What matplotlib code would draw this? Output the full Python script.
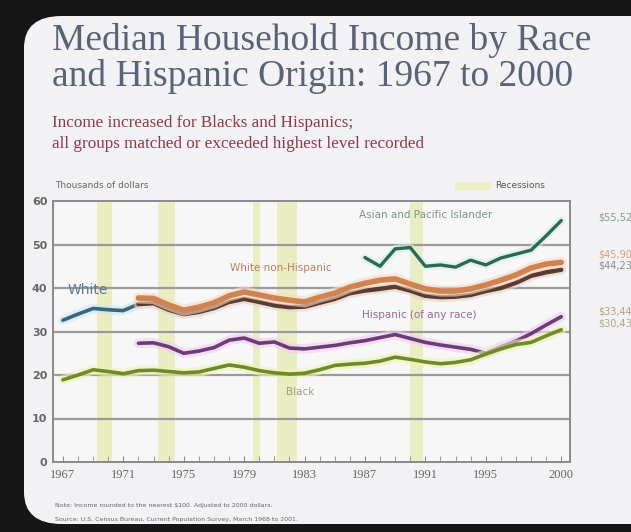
import matplotlib.pyplot as plt
import matplotlib.patheffects as pe
from matplotlib.patches import FancyBboxPatch, Rectangle

years = list(range(1967, 2001))

white = [32.6, 34.0, 35.3, 35.0, 34.8, 36.3, 36.5, 35.0, 34.0, 34.5,
         35.4, 36.8, 37.5, 36.8, 36.0, 35.6, 35.7, 36.6, 37.5, 38.8,
         39.4, 39.8, 40.3, 39.4, 38.2, 37.9, 38.0, 38.4, 39.3, 40.0,
         41.2, 42.8, 43.6, 44.2]

wnh_years = list(range(1972, 2001))
white_non_hisp = [37.7, 37.6, 36.1, 34.9, 35.6, 36.6, 38.2, 39.1, 38.4, 37.7,
                  37.2, 36.8, 37.9, 38.8, 40.2, 41.1, 41.8, 42.1, 40.9, 39.8,
                  39.3, 39.3, 39.8, 40.7, 41.8, 43.0, 44.6, 45.5, 45.9]

hisp_years = list(range(1972, 2001))
hispanic = [27.3, 27.4, 26.5, 25.0, 25.5, 26.3, 28.0, 28.5, 27.3, 27.6,
            26.2, 26.0, 26.4, 26.8, 27.4, 27.9, 28.6, 29.3, 28.4, 27.5,
            26.9, 26.4, 25.9, 25.0, 26.5, 27.8, 29.5, 31.5, 33.4]

black = [18.9, 20.0, 21.2, 20.8, 20.3, 21.0, 21.1, 20.8, 20.5, 20.7,
         21.5, 22.3, 21.8, 21.0, 20.5, 20.2, 20.4, 21.2, 22.2, 22.5,
         22.7, 23.2, 24.1, 23.6, 23.0, 22.6, 22.9, 23.5, 24.8, 26.0,
         27.0, 27.5, 29.0, 30.4]

asian_years = list(range(1987, 2001))
asian = [47.0, 45.0, 49.0, 49.3, 45.0, 45.3, 44.8, 46.4, 45.3, 46.9,
         47.8, 48.7, 52.0, 55.5]

recessions = [(1969.25, 1970.25), (1973.3, 1974.4), (1979.6, 1980.05),
              (1981.2, 1982.5), (1990.0, 1990.85)]

tick_years = [1967, 1971, 1975, 1979, 1983, 1987, 1991, 1995, 2000]
end_labels = ["$55,521", "$45,904", "$44,232", "$33,447", "$30,439"]

W, H = 631, 532
fig = plt.figure(figsize=(W / 100, H / 100), dpi=100)
fig.patch.set_facecolor("#161616")

# rounded light card behind everything
card = FancyBboxPatch((24 / W, 8 / H), 700 / W, 508 / H,
                      boxstyle="round,pad=0,rounding_size=0.06",
                      transform=fig.transFigure, facecolor="#f2f2f4",
                      edgecolor="none", zorder=-5)
fig.patches.append(card)

serif = ["Liberation Serif", "DejaVu Serif"]
fig.text(52 / W, 1 - 50 / H, "Median Household Income by Race",
         family=serif, fontsize=27, color="#5a6276", va="baseline")
fig.text(52 / W, 1 - 86 / H, "and Hispanic Origin: 1967 to 2000",
         family=serif, fontsize=27, color="#5a6276", va="baseline")
fig.text(52 / W, 1 - 127 / H, "Income increased for Blacks and Hispanics;",
         family=serif, fontsize=12.3, color="#8c3a48", va="baseline")
fig.text(52 / W, 1 - 148 / H,
         "all groups matched or exceeded highest level recorded",
         family=serif, fontsize=12.3, color="#8c3a48", va="baseline")

ax = fig.add_axes([53 / W, 1 - 462 / H, 517 / W, 261 / H])
ax.set_facecolor("#f7f7f8")
ax.set_xlim(1966.34, 2000.58)
ax.set_ylim(0, 60)

for a, b in recessions:
    ax.axvspan(a, b, color="#e9ecbc", alpha=0.9, lw=0, zorder=1)

for v in range(10, 60, 10):
    ax.axhline(v, color="#9a9a9c", lw=1.6, zorder=2)

for s in ax.spines.values():
    s.set_color("#8a8a8c")
    s.set_linewidth(1.4)


def glow(color, w):
    return [pe.Stroke(linewidth=w, foreground=color, alpha=0.6), pe.Normal()]


# White: blue before 1972, dark under the orange afterwards
ax.plot(years[:6], white[:6], color="#36677c", lw=2.6, zorder=4,
        path_effects=glow("#cfe6f2", 7), solid_capstyle="round")
ax.plot(years[5:], white[5:], color="#5b3b30", lw=3.2, zorder=4,
        path_effects=glow("#e8d0c8", 7), solid_capstyle="round")
ax.plot(wnh_years, white_non_hisp, color="#cf8350", lw=4.0, zorder=5,
        path_effects=glow("#f5dcc8", 8), solid_capstyle="round")
ax.plot(asian_years, asian, color="#2b6a52", lw=2.4, zorder=5,
        path_effects=glow("#d6eee2", 6), solid_capstyle="round")
ax.plot(hisp_years, hispanic, color="#6a3c78", lw=2.6, zorder=5,
        path_effects=glow("#f2ccf0", 7), solid_capstyle="round")
ax.plot(years, black, color="#6e8a2c", lw=2.6, zorder=5,
        path_effects=glow("#eef4b0", 7), solid_capstyle="round")

ax.text(1967.3, 38.6, "White", color="#5c7c92", fontsize=10)
ax.text(1981.4, 44.6, "White non-Hispanic", color="#b97e62", fontsize=7.5,
        ha="center", va="center")
ax.text(1991.0, 56.8, "Asian and Pacific Islander", color="#7c9282",
        fontsize=7.5, ha="center", va="center")
ax.text(1990.6, 33.8, "Hispanic (of any race)", color="#8e6aa0",
        fontsize=7.5, ha="center", va="center")
ax.text(1982.7, 16.0, "Black", color="#a0a070", fontsize=7.5,
        ha="center", va="center")

ax.set_xticks(tick_years)
ax.set_xticklabels([str(y) for y in tick_years], family=serif,
                   fontsize=9, color="#666")
ax.set_xticks(years, minor=True)
ax.tick_params(axis="x", which="both", direction="in", length=4,
               color="#8a8a8c", pad=5)
ax.set_yticks(range(0, 70, 10))
ax.set_yticklabels([str(v) for v in range(0, 70, 10)], fontsize=8,
                   color="#666", fontweight="bold")
ax.tick_params(axis="y", length=0, pad=4)

fig.text(55 / W, 1 - 186 / H, "Thousands of dollars", fontsize=6.5,
         color="#666", va="center")
fig.patches.append(Rectangle((455 / W, 1 - 190 / H), 36 / W, 8 / H,
                             transform=fig.transFigure,
                             facecolor="#eceec4", edgecolor="none"))
fig.text(495 / W, 1 - 186 / H, "Recessions", fontsize=6.5, color="#555",
         va="center")

end_y = [218, 254, 265, 311, 324]
end_c = ["#8a9a90", "#d0a080", "#8a8a86", "#b0a080", "#b0ac80"]
for lab, yy, c in zip(end_labels, end_y, end_c):
    fig.text(598 / W, 1 - yy / H, lab, fontsize=7, color=c, va="center")

fig.text(55 / W, 1 - 506 / H,
         "Note: Income rounded to the nearest $100. Adjusted to 2000 dollars.",
         fontsize=4.5, color="#666", va="center")
fig.text(55 / W, 1 - 520 / H,
         "Source: U.S. Census Bureau, Current Population Survey, March 1968 to 2001.",
         fontsize=4.5, color="#666", va="center")

fig.savefig("out.png", dpi=100, facecolor=fig.get_facecolor())
